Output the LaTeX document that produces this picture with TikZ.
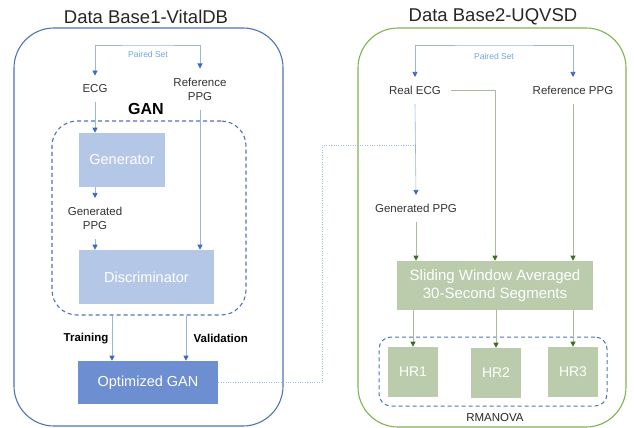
\documentclass[tikz,border=0pt]{standalone}
\usepackage{fontspec}
\setmainfont{Liberation Sans}
\usetikzlibrary{arrows.meta}

\definecolor{dbblue}{HTML}{4F73B8}
\definecolor{dbgreen}{HTML}{7DB54E}
\definecolor{lnblue}{HTML}{9AB4E4}
\definecolor{tipblue}{HTML}{3C6AC2}
\definecolor{psblue}{HTML}{6FA3E0}
\definecolor{ganfill}{HTML}{B4C7E7}
\definecolor{optfill}{HTML}{6D8ED0}
\definecolor{lngreen}{HTML}{A9BD9A}
\definecolor{tipgreen}{HTML}{3B6E22}
\definecolor{boxgreen}{HTML}{BACCAB}
\definecolor{lkblue}{HTML}{A3BCE8}

\begin{document}
\begin{tikzpicture}[x=1pt,y=-1pt,semithick]
      \tikzstyle{title}=[font=\fontsize{18.5}{20}\selectfont,text=black!85]
      \tikzstyle{dbbox}=[draw,line width=1.1pt,rounded corners=40pt]
      \tikzstyle{lbl}=[font=\fontsize{11.5}{14}\selectfont,text=black!80,align=center,inner ysep=9pt,inner xsep=10pt]
      \tikzstyle{pairtxt}=[font=\fontsize{8.5}{10}\selectfont,text=psblue]
      \tikzstyle{ganbx}=[fill=ganfill,text=white,font=\fontsize{14.5}{16}\selectfont]
      \tikzstyle{grnbx}=[fill=boxgreen,text=white,font=\fontsize{15}{18}\selectfont,align=center]
      \tikzstyle{grp}=[draw,line width=1.1pt,dash pattern=on 4pt off 3pt]
      \tikzstyle{barr}=[draw=lnblue,-{Triangle[width=5pt,length=5pt,color=tipblue]}]
      \tikzstyle{garr}=[draw=lngreen,-{Triangle[width=5pt,length=5pt,color=tipgreen]}]
      \tikzstyle{pair}=[draw=lnblue,{Triangle[width=5pt,length=5pt,color=tipblue]}-{Triangle[width=5pt,length=5pt,color=tipblue]}]

      \useasboundingbox (0,0) rectangle (634,428);

      % Data Base1
      \node [title] (t1) at (146,17) {Data Base1-VitalDB};
      \node [dbbox,draw=dbblue,minimum width=269pt,minimum height=398pt] (db1) at (148.5,227) {};
      \node [lbl] (ecg1) at (95,89) {ECG};
      \node [lbl] (ref1) at (200,89) {Reference\\PPG};
      \coordinate (p1) at (148,45);
      \node [pairtxt] (ps1) at (148,54) {Paired Set};
      \node [font=\bfseries\fontsize{16}{18}\selectfont] (gan) at (146,109) {GAN};
      \node [grp,draw=dbblue,rounded corners=25pt,minimum width=194pt,minimum height=194pt] (ganbox) at (149,218) {};
      \node [ganbx,minimum width=86pt,minimum height=54pt] (gen) at (122,160) {Generator};
      \node [lbl] (gppg1) at (95,218.5) {Generated\\PPG};
      \node [ganbx,minimum width=135pt,minimum height=54pt] (disc) at (146.5,277) {Discriminator};
      \node [fill=optfill,text=white,font=\fontsize{14.5}{16}\selectfont,minimum width=140pt,minimum height=43pt] (opt) at (148,382.5) {Optimized GAN};

      \path [pair] (ecg1.north) |- (p1) -| (ref1.north);
      \path [barr] (ecg1.south) -- (ecg1.south |- gen.north);
      \path [barr] (gen.south -| gppg1.north) -- (gppg1.north);
      \path [barr] (gppg1.south) -- (gppg1.south |- disc.north);
      \path [barr] (ref1.south) -- (ref1.south |- disc.north);
      \path [barr] ([xshift=-37pt]ganbox.south) -- ([xshift=-37pt]ganbox.south |- opt.north)
        node [midway,left,font=\bfseries\fontsize{11.5}{14}\selectfont] {Training};
      \path [barr] ([xshift=37pt]ganbox.south) -- ([xshift=37pt]ganbox.south |- opt.north)
        node [midway,right,xshift=4pt,font=\bfseries\fontsize{11.5}{14}\selectfont] {Validation};

      % Data Base2
      \node [title] (t2) at (493,17) {Data Base2-UQVSD};
      \node [dbbox,draw=dbgreen,minimum width=268pt,minimum height=399pt] (db2) at (492,227.5) {};
      \node [lbl] (recg) at (415,90.5) {Real ECG};
      \node [lbl] (rppg) at (573,90.5) {Reference PPG};
      \coordinate (p2) at (494,45);
      \node [pairtxt] (ps2) at (494,56) {Paired Set};
      \node [lbl] (gppg2) at (416,208.5) {Generated PPG};
      \node [grnbx,minimum width=196pt,minimum height=49pt] (sw) at (495,285.5) {Sliding Window Averaged\\30-Second Segments};
      \node [grp,draw=dbblue,line width=1pt,rounded corners=12pt,minimum width=228pt,minimum height=69pt] (rm) at (493,371.5) {};
      \node [grnbx,minimum width=50pt,minimum height=50pt,font=\fontsize{14}{16}\selectfont] (hr1) at (413,372) {HR1};
      \node [grnbx,minimum width=50pt,minimum height=50pt,font=\fontsize{14}{16}\selectfont] (hr2) at (496,373) {HR2};
      \node [grnbx,minimum width=50pt,minimum height=50pt,font=\fontsize{14}{16}\selectfont] (hr3) at (573,372) {HR3};
      \node [font=\fontsize{11.5}{14}\selectfont,text=black!85] (rman) at (495,418) {RMANOVA};

      \path [pair] (recg.north) |- (p2) -| (rppg.north);
      \path [barr] (recg.south) -- (gppg2.north);
      \path [garr] (recg.east) -| (sw.north);
      \path [garr] (gppg2.south) -- (gppg2.south |- sw.north);
      \path [garr] (rppg.south) -- (rppg.south |- sw.north);
      \path [garr] (sw.south -| hr1.north) -- (hr1.north);
      \path [garr] (sw.south -| hr2.north) -- (hr2.north);
      \path [garr] (sw.south -| hr3.north) -- (hr3.north);

      % link between the two
      \coordinate (lk1) at (322,145);
      \coordinate (lk2) at (414,145);
      \draw [lkblue,thin,dotted] (opt.east) -| (lk1) -- (lk2);
    \end{tikzpicture}
\end{document}
